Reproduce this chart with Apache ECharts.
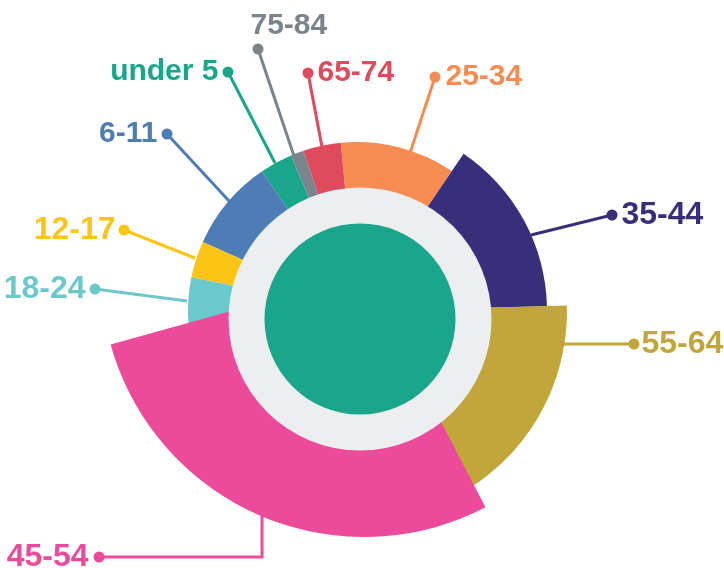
<!DOCTYPE html>
<html>
<head>
<meta charset="utf-8">
<title>Age groups</title>
<script src="https://cdn.jsdelivr.net/npm/echarts@6/dist/echarts.min.js"></script>
<style>
  html, body { margin: 0; padding: 0; background: #fff; }
  #main { width: 724px; height: 568px; }
</style>
</head>
<body>
<div id="main"></div>
<script>
// slices in drawing order (counter-clockwise, starting top left)
var ageGroups = ['under 5', '6-11', '12-17', '18-24', '45-54', '55-64', '35-44', '25-34', '65-74', '75-84'];
var shares = [3.1, 8.8, 3.5, 7.5, 28.3, 17.75, 15.1, 11.0, 3.6, 1.25];

var colors = {
  'under 5': '#1aa68a',
  '6-11': '#4e7db5',
  '12-17': '#fcc515',
  '18-24': '#6bc9cb',
  '45-54': '#ec4b9b',
  '55-64': '#c0a63b',
  '35-44': '#382e7a',
  '25-34': '#f68c52',
  '65-74': '#dd4b5d',
  '75-84': '#7a848b'
};
var FONT = '"Liberation Sans", Arial, sans-serif';

// each layer draws some of the slices with its own outer radius
var layers = [
  { names: ['under 5', '6-11', '12-17', '18-24', '25-34', '65-74', '75-84'], center: [357, 311], r: 169 },
  { names: ['35-44'], center: [357, 311], r: 190 },
  { names: ['55-64'], center: [357, 311], r: 210 },
  { names: ['45-54'], center: [364, 274], r: 263 }
];

// leader lines: first point on the slice edge, last point = the dot
var callouts = {
  'under 5': { side: 'left', size: 30, gap: 4, line: [[275, 163], [228, 72]] },
  '6-11':    { side: 'left', size: 30, gap: 4, line: [[230, 202], [167, 134]] },
  '12-17':   { side: 'left', size: 32, gap: 3, line: [[195, 258], [124, 230]] },
  '18-24':   { side: 'left', size: 32, gap: 4, line: [[187, 301], [95, 289]] },
  '45-54':   { side: 'left', size: 32, gap: 5, line: [[262, 516], [262, 557], [99, 557]] },
  '75-84':   { side: 'top', size: 30, gap: 2, line: [[294, 156], [258, 49]] },
  '65-74':   { side: 'right', size: 30, gap: 4, line: [[322, 147], [308, 73]] },
  '25-34':   { side: 'right', size: 30, gap: 5, line: [[410, 153], [435, 77]] },
  '35-44':   { side: 'right', size: 32, gap: 4, line: [[531, 235], [612, 215]] },
  '55-64':   { side: 'right', size: 32, gap: 2, line: [[561, 344], [634, 344]] }
};
var DOT = 11;

function labelFor(name) {
  var c = callouts[name];
  var col = colors[name];
  var fmt;
  if (c.side === 'left') {
    fmt = '{t|' + name + '}{g|}{d|}';
  } else if (c.side === 'right') {
    fmt = '{d|}{g|}{t|' + name + '}';
  } else {
    fmt = '{t|' + name + '}\n{g|}{d|}';
  }
  return {
    show: true,
    formatter: fmt,
    rich: {
      t: { fontFamily: FONT, fontWeight: 'bold', fontSize: c.size, color: col, lineHeight: c.side === 'top' ? 30 : c.size + 2, verticalAlign: 'middle' },
      d: { width: DOT, height: DOT, borderRadius: DOT / 2, backgroundColor: col, verticalAlign: 'middle', lineHeight: 16 },
      g: { width: c.gap }
    }
  };
}

function placeLabel(p) {
  var name = ageGroups[p.dataIndex];
  var c = callouts[name];
  if (!c) return;
  var pts = c.line.slice();
  if (pts.length === 2) {
    pts = [pts[0], [(pts[0][0] + pts[1][0]) / 2, (pts[0][1] + pts[1][1]) / 2], pts[1]];
  }
  var dot = pts[2];
  if (c.side === 'left') {
    return { x: dot[0] + DOT / 2, y: dot[1], align: 'right', verticalAlign: 'middle', labelLinePoints: pts };
  }
  if (c.side === 'right') {
    return { x: dot[0] - DOT / 2, y: dot[1], align: 'left', verticalAlign: 'middle', labelLinePoints: pts };
  }
  return { x: dot[0] - DOT / 2 - c.gap, y: dot[1] - 38, align: 'left', verticalAlign: 'top', labelLinePoints: pts };
}

var series = [];
layers.forEach(function (layer, li) {
  series.push({
    type: 'pie',
    z: 2 + li * 0.1,
    center: layer.center,
    radius: [0, layer.r],
    startAngle: 113,
    clockwise: false,
    avoidLabelOverlap: false,
    silent: true,
    animation: false,
    emphasis: { disabled: true },
    itemStyle: { borderWidth: 0 },
    labelLayout: placeLabel,
    data: ageGroups.map(function (name, i) {
      var shown = layer.names.indexOf(name) >= 0;
      return {
        name: name,
        value: shares[i],
        itemStyle: { color: shown ? colors[name] : 'transparent', borderWidth: 0 },
        label: shown ? labelFor(name) : { show: false },
        labelLine: { show: shown, smooth: false, lineStyle: { color: colors[name], width: 3 } }
      };
    })
  });
});

// grey ring and green centre
series.push({
  type: 'pie', z: 4, center: [360, 319], radius: [0, 131.5],
  silent: true, animation: false, label: { show: false }, labelLine: { show: false },
  itemStyle: { color: '#edeef0', borderWidth: 0 },
  data: [1]
});
series.push({
  type: 'pie', z: 5, center: [360, 319], radius: [0, 95.5],
  silent: true, animation: false, label: { show: false }, labelLine: { show: false },
  itemStyle: { color: '#1aa68a', borderWidth: 0 },
  data: [1]
});

var chart = echarts.init(document.getElementById('main'), null, { renderer: 'canvas' });
chart.setOption({
  backgroundColor: '#ffffff',
  animation: false,
  series: series
});
</script>
</body>
</html>
